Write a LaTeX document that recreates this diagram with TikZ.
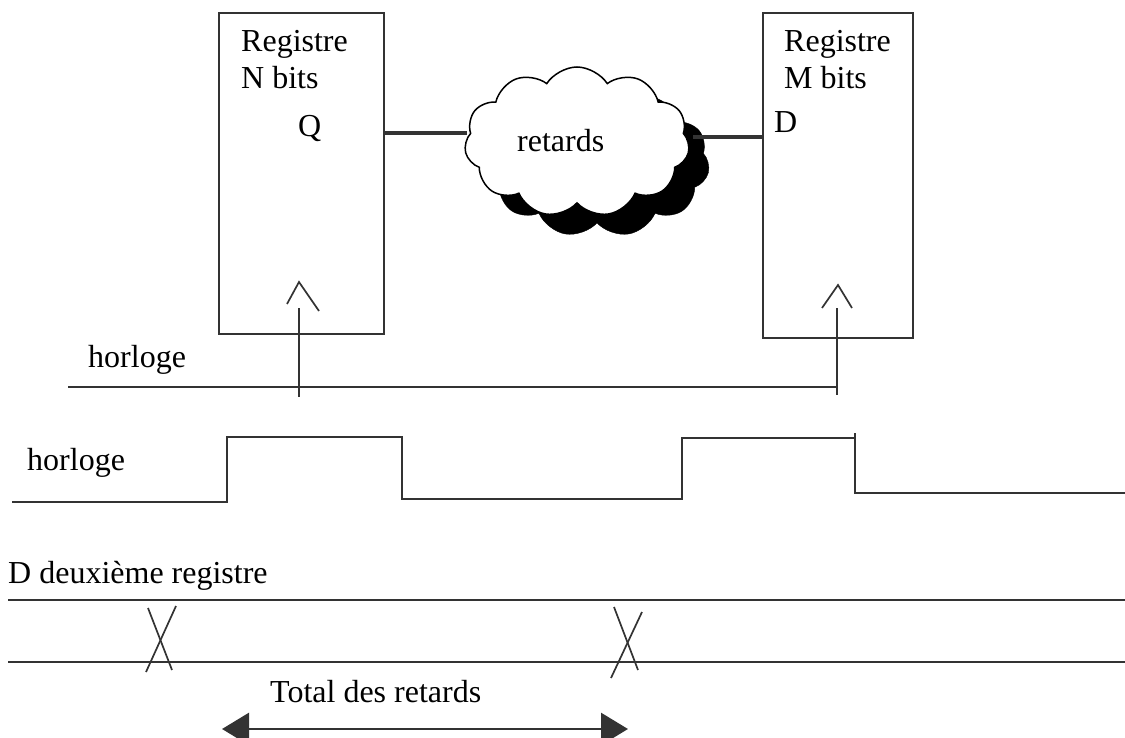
\documentclass[tikz,border=0pt]{standalone}
\usepackage{fontspec}
\setmainfont{Liberation Serif}
\usetikzlibrary{shapes.symbols,arrows.meta}
\definecolor{ink}{HTML}{333333}
\tikzset{
  lbl/.style={inner sep=0pt, anchor=base west, font=\fontsize{32}{38}\selectfont},
  regbox/.style={draw=ink, line width=1.7pt, minimum width=#1, inner sep=0pt},
  wire/.style={draw=ink, line width=1.7pt},
  busline/.style={draw=ink, line width=4.5pt},
  puff/.style={cloud, cloud puffs=11, cloud puff arc=115, aspect=1.5,
               minimum width=225pt, minimum height=150pt, inner sep=0pt},
  span/.style={draw=ink, line width=2.8pt, {Triangle[length=27pt,width=32pt]}-{Triangle[length=27pt,width=32pt]}}
}
\begin{document}
\begin{tikzpicture}[x=1pt,y=-1pt]
\useasboundingbox (0,0) rectangle (1125,738);

% registers
\node[regbox=165pt, minimum height=321pt, anchor=north west] (reg1) at (218,12) {};
\node[regbox=150pt, minimum height=325pt, anchor=north west] (reg2) at (762,12) {};
\node[lbl] (r1a) at (241,52) {Registre};
\node[lbl] (r1b) at (241,89) {N bits};
\node[lbl] (q)   at (298,137) {Q};
\node[lbl] (r2a) at (784,52) {Registre};
\node[lbl] (r2b) at (784,89) {M bits};
\node[lbl] (d)   at (774,133) {D};

% combinational delay cloud with its shadow
\node[puff, fill=black, draw=black] (shadow) at (597,162) {};
\node[puff, fill=white, draw=black, line width=1.5pt] (cloud) at (577,142) {};
\node[lbl] (ret) at (517,152) {retards};
\coordinate (cin)  at (467,133);
\coordinate (cout) at (693,137);
\draw[busline] (reg1.east |- cin) -- (cin);
\draw[busline] (cout) -- (reg2.west |- cout);

% clock inputs
\coordinate (ck1) at (299,308);
\coordinate (ck2) at (837,308);
\coordinate (hl)  at (68,387);
\draw[wire] (287,304) -- (299,282) -- (319,311);
\draw[wire] (822,308) -- (838,285) -- (852,308);
\draw[wire] (ck1) -- (ck1 |- 0,397);
\draw[wire] (ck2) -- (ck2 |- 0,395);
\draw[wire] (hl) -- (hl -| ck2);
\node[lbl] (h1) at (88,367) {horloge};

% clock waveform
\node[lbl] (h2) at (27,470) {horloge};
\draw[wire] (12,502) -- (227,502) -- (227,437) -- (402,437) -- (402,499)
  -- (682,499) -- (682,438) -- (855,438);
\draw[wire] (855,433) -- (855,493) -- (1125,493);

% data at the second register
\node[lbl] (dreg) at (8,583) {D deuxième registre};
\draw[wire] (8,600) -- (1125,600);
\draw[wire] (8,662) -- (1125,662);
\draw[wire] (148,608) -- (172,670);
\draw[wire] (176,606) -- (146,672);
\draw[wire] (614,607) -- (638,670);
\draw[wire] (642,612) -- (611,678);

% total delay
\node[lbl] (tot) at (270,702) {Total des retards};
\coordinate (a1) at (222,729);
\coordinate (a2) at (628,729);
\draw[span] (a1) -- (a2);
\end{tikzpicture}
\end{document}
